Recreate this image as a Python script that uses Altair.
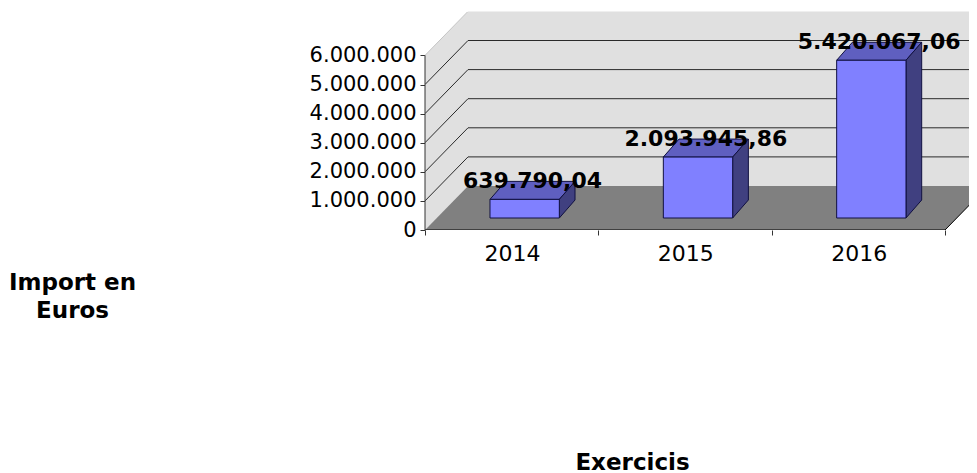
import altair as alt
import pandas as pd

years = [2014, 2015, 2016]
amounts = [639790.04, 2093945.86, 5420067.06]
amount_labels = ["639.790,04", "2.093.945,86", "5.420.067,06"]
y_ticks = [0, 1000000, 2000000, 3000000, 4000000, 5000000, 6000000]

PX_CAT = 173.33
PX_M = 29.1
W, H = 544, 218
X_MAX = W / PX_CAT
Y_MAX = H / PX_M * 1e6
WALL_DX = 43 / PX_CAT
WALL_DY = 44 / PX_M * 1e6
BAR_L, BAR_W = 0.375, 0.40
BAR_BASE = 12 / PX_M * 1e6
BAR_DX = 15.7 / PX_CAT
BAR_DY = 18 / PX_M * 1e6
N = len(years)

X_AXIS = alt.Axis(
    values=[0, 1, 2, 3], grid=False, domain=False, tickColor="#333333", tickSize=5,
    labelExpr="datum.value < 3 ? '' + (2014 + datum.value) : ''", labelOffset=87, labelPadding=8,
    labelFont="DejaVu Sans", labelFontSize=22, labelColor="#000000", labelFlush=False, labelOverlap=False,
    title="Exercicis", titleFont="DejaVu Sans", titleFontSize=23, titleFontWeight="bold", titleColor="#000000",
    titleX=207, titleY=232, titleAlign="center", titleBaseline="middle",
)
Y_AXIS = alt.Axis(
    values=y_ticks, grid=False, domain=False, tickColor="#333333", tickSize=5,
    labelExpr="replace(format(datum.value, ','), /,/g, '.')", labelPadding=4, labelOverlap=False,
    labelFont="DejaVu Sans", labelFontSize=21, labelColor="#000000",
    title=["Import en", "Euros"], titleFont="DejaVu Sans", titleFontSize=23, titleFontWeight="bold",
    titleColor="#000000", titleAngle=0, titleX=-353, titleY=270, titleAlign="center", titleLineHeight=28,
    titleBaseline="middle",
)

xs = alt.Scale(domain=[0, X_MAX], nice=False, zero=False)
ys = alt.Scale(domain=[0, Y_MAX], nice=False, zero=False)
X = lambda f="x": alt.X(f"{f}:Q", scale=xs, axis=X_AXIS)
Y = lambda f="y": alt.Y(f"{f}:Q", scale=ys, axis=Y_AXIS)

left_wall = pd.DataFrame({"x": [0, WALL_DX], "y": [0, WALL_DY], "y2": [6e6, 6e6 + WALL_DY]})
back_wall = pd.DataFrame({"x": [WALL_DX], "x2": [X_MAX], "y": [WALL_DY], "y2": [6e6 + WALL_DY]})
floor = pd.DataFrame({"y": [0, WALL_DY], "x": [0, WALL_DX], "x2": [N, N + WALL_DX]})

grid = []
for v in y_ticks:
    if v == 0:
        continue
    grid += [{"v": v, "x": 0, "y": v}, {"v": v, "x": WALL_DX, "y": v + WALL_DY}, {"v": v, "x": X_MAX, "y": v + WALL_DY}]
grid = pd.DataFrame(grid)

edges = pd.DataFrame([
    {"k": "a", "x": 0, "y": 0}, {"k": "a", "x": N, "y": 0}, {"k": "a", "x": N + WALL_DX, "y": WALL_DY},
])
y_line = pd.DataFrame({"x": [0], "y": [0], "y2": [6e6]})

front, top, side, labels = [], [], [], []
for i, (yr, a, lab) in enumerate(zip(years, amounts, amount_labels)):
    l, r = i + BAR_L, i + BAR_L + BAR_W
    b, t = BAR_BASE, BAR_BASE + a
    front.append({"k": yr, "x": l, "x2": r, "y": b, "y2": t})
    top += [{"k": yr, "y": t, "x": l, "x2": r}, {"k": yr, "y": t + BAR_DY, "x": l + BAR_DX, "x2": r + BAR_DX}]
    side += [{"k": yr, "x": r, "y": b, "y2": t}, {"k": yr, "x": r + BAR_DX, "y": b + BAR_DY, "y2": t + BAR_DY}]
    labels.append({"x": (l + r) / 2 + BAR_DX / 2, "y": t + BAR_DY, "t": lab})
front, top, side, labels = map(pd.DataFrame, (front, top, side, labels))

A = lambda d, **k: alt.Chart(d).mark_area(**k)

layers = [
    A(left_wall, orient="vertical", color="#E0E0E0", line=False).encode(x=X(), y=Y(), y2="y2:Q"),
    alt.Chart(back_wall).mark_rect(color="#E0E0E0").encode(x=X(), x2="x2:Q", y=Y(), y2="y2:Q"),
    alt.Chart(grid).mark_line(strokeWidth=1, clip=True).encode(
        x=X(), y=Y(), detail="v:N", color=alt.condition("datum.v == 6000000", alt.value("#C4C4C4"), alt.value("#2a2a2a"))),
    A(floor, orient="horizontal", color="#808080", clip=True).encode(y=Y(), x=X(), x2="x2:Q"),
    alt.Chart(edges).mark_line(color="#000000", strokeWidth=1, clip=True).encode(x=X(), y=Y(), detail="k:N"),
    alt.Chart(y_line).mark_rule(color="#333333").encode(x=X(), y=Y(), y2="y2:Q"),
    A(top, orient="horizontal", color="#5F5FC0", stroke="#101040", strokeWidth=1).encode(y=Y(), x=X(), x2="x2:Q", detail="k:N"),
    A(side, orient="vertical", color="#404080", stroke="#101040", strokeWidth=1).encode(x=X(), y=Y(), y2="y2:Q", detail="k:N"),
    alt.Chart(front).mark_rect(color="#8080FF", stroke="#101040", strokeWidth=1).encode(x=X(), x2="x2:Q", y=Y(), y2="y2:Q"),
    alt.Chart(labels).mark_text(font="DejaVu Sans", fontSize=22, fontWeight="bold", color="#000000", baseline="middle", align="center").encode(
        x=X(), y=Y(), text="t:N"),
]

chart = alt.layer(*layers).properties(
    width=W, height=H,
    autosize=alt.AutoSizeParams(type="none"),
    padding={"left": 417, "top": 4, "right": 0, "bottom": 243},
    background="#FFFFFF",
).configure_view(stroke=None)

chart.save("out.html", embed_options={"renderer": "svg", "actions": False})
